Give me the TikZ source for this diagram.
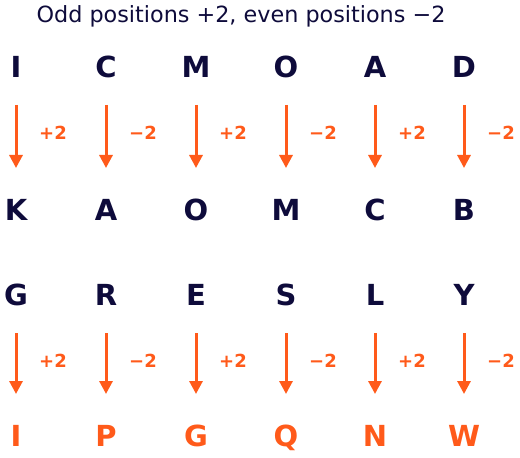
\documentclass[tikz,border=0pt]{standalone}
\usepackage{fontspec}
\setmainfont{DejaVu Sans}
\usetikzlibrary{arrows.meta}
\definecolor{navy}{HTML}{0E0B3B}
\definecolor{flame}{HTML}{FF5A1A}
\begin{document}
\begin{tikzpicture}
[x=1bp,y=-1bp,
  letterdecorate/.style={inner sep=0pt,text height=21bp,text depth=0pt,
    font=\fontsize{29bp}{29bp}\selectfont\bfseries,text=navy},%
  answerdecorate/.style={letterdecorate,text=flame},%
  arrowdecorate/.style={-{Triangle[width=13bp,length=13bp]},line width=3bp,draw=flame,
    shorten <=38bp,shorten >=42bp},%
  labeldecorate/.style={inner sep=0pt,text height=13bp,text depth=0pt,
    font=\fontsize{18bp}{18bp}\selectfont\bfseries,text=flame,xshift=37bp,yshift=5bp}]
\useasboundingbox (0,0) rectangle (520,458);
%%% title
\node (title) at (241,16) [inner sep=0pt,text=navy,font=\fontsize{22.3bp}{22.3bp}\selectfont]
  {Odd positions +2, even positions −2};
%
%%% first word
% nodes or letters
\node (a1) at (16,67) [letterdecorate] {I};
\node (b1) at (106,67) [letterdecorate] {C};
\node (c1) at (196,67) [letterdecorate] {M};
\node (d1) at (286,67) [letterdecorate] {O};
\node (e1) at (375,67) [letterdecorate] {A};
\node (f1) at (464,67) [letterdecorate] {D};
\node (a2) at (16,210) [letterdecorate] {K};
\node (b2) at (106,210) [letterdecorate] {A};
\node (c2) at (196,210) [letterdecorate] {O};
\node (d2) at (286,210) [letterdecorate] {M};
\node (e2) at (375,210) [letterdecorate] {C};
\node (f2) at (464,210) [letterdecorate] {B};
% edges or shifts
\path
(a1.center) edge[arrowdecorate] node[labeldecorate] {+2} (a2.center)
(b1.center) edge[arrowdecorate] node[labeldecorate] {−2} (b2.center)
(c1.center) edge[arrowdecorate] node[labeldecorate] {+2} (c2.center)
(d1.center) edge[arrowdecorate] node[labeldecorate] {−2} (d2.center)
(e1.center) edge[arrowdecorate] node[labeldecorate] {+2} (e2.center)
(f1.center) edge[arrowdecorate] node[labeldecorate] {−2} (f2.center);
%
%%% second word
% nodes or letters
\node (a3) at (16,295) [letterdecorate] {G};
\node (b3) at (106,295) [letterdecorate] {R};
\node (c3) at (196,295) [letterdecorate] {E};
\node (d3) at (286,295) [letterdecorate] {S};
\node (e3) at (375,295) [letterdecorate] {L};
\node (f3) at (464,295) [letterdecorate] {Y};
\node (a4) at (16,436) [answerdecorate] {I};
\node (b4) at (106,436) [answerdecorate] {P};
\node (c4) at (196,436) [answerdecorate] {G};
\node (d4) at (286,436) [answerdecorate] {Q};
\node (e4) at (375,436) [answerdecorate] {N};
\node (f4) at (464,436) [answerdecorate] {W};
% edges or shifts
\path
(a3.center) edge[arrowdecorate] node[labeldecorate] {+2} (a4.center)
(b3.center) edge[arrowdecorate] node[labeldecorate] {−2} (b4.center)
(c3.center) edge[arrowdecorate] node[labeldecorate] {+2} (c4.center)
(d3.center) edge[arrowdecorate] node[labeldecorate] {−2} (d4.center)
(e3.center) edge[arrowdecorate] node[labeldecorate] {+2} (e4.center)
(f3.center) edge[arrowdecorate] node[labeldecorate] {−2} (f4.center);
\end{tikzpicture}
\end{document}
